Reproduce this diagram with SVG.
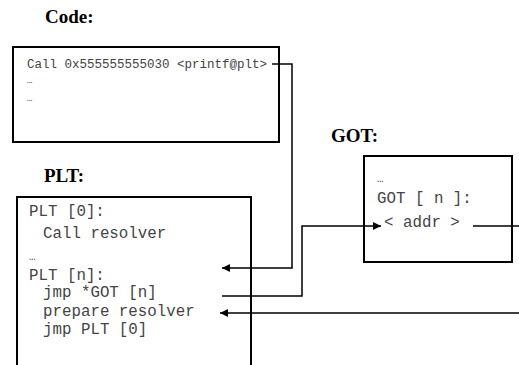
<svg xmlns="http://www.w3.org/2000/svg" width="519" height="365" viewBox="0 0 519 365">
  <style>
    .title { font-family: "Liberation Serif", "Times New Roman", serif; font-weight: bold; font-size: 19px; fill: #000; }
    .mono { font-family: "Liberation Mono", "Courier New", monospace; fill: #444; }
    .box { fill: #fff; stroke: #000; stroke-width: 2; }
    .wire { fill: none; stroke: #000; stroke-width: 1.5; }
  </style>
  <defs>
    <marker id="arrow" viewBox="0 0 10 10" refX="10" refY="5" markerWidth="10" markerHeight="8" markerUnits="userSpaceOnUse" orient="auto">
      <path d="M0,0 L10,5 L0,10 z" fill="#000"/>
    </marker>
  </defs>
  <rect width="519" height="365" fill="#fff"/>

  <g id="code">
    <text class="title" x="45" y="23">Code:</text>
    <rect class="box" x="13" y="47" width="266" height="95"/>
    <text class="mono" font-size="12.5" x="27" y="68">Call 0x555555555030 &lt;printf@plt&gt;</text>
    <text class="mono" font-size="9" x="27" y="83">…</text>
    <text class="mono" font-size="9" x="27" y="101">…</text>
  </g>

  <g id="plt">
    <text class="title" x="44" y="182">PLT:</text>
    <rect class="box" x="17" y="197" width="234" height="180"/>
    <g class="mono" font-size="15.8">
      <text x="29" y="216">PLT [0]:</text>
      <text x="43" y="238">Call resolver</text>
      <text x="29" y="260" font-size="11">…</text>
      <text x="29" y="280">PLT [n]:</text>
      <text x="43" y="297">jmp *GOT [n]</text>
      <text x="43" y="316">prepare resolver</text>
      <text x="43" y="334">jmp PLT [0]</text>
    </g>
  </g>

  <g id="got">
    <text class="title" x="331" y="142">GOT:</text>
    <rect class="box" x="364" y="156" width="148" height="106"/>
    <g class="mono" font-size="15.8">
      <text x="377" y="182" font-size="11">…</text>
      <text x="377" y="203">GOT [ n ]:</text>
      <text x="384" y="227">&lt; addr &gt;</text>
    </g>
  </g>

  <g id="connectors">
    <path class="wire" d="M272,64 H292 V268 H222" marker-end="url(#arrow)"/>
    <path class="wire" d="M222,296 H302 V226 H381" marker-end="url(#arrow)"/>
    <path class="wire" d="M473,226 H519"/>
    <path class="wire" d="M519,313 H220" marker-end="url(#arrow)"/>
  </g>
</svg>
